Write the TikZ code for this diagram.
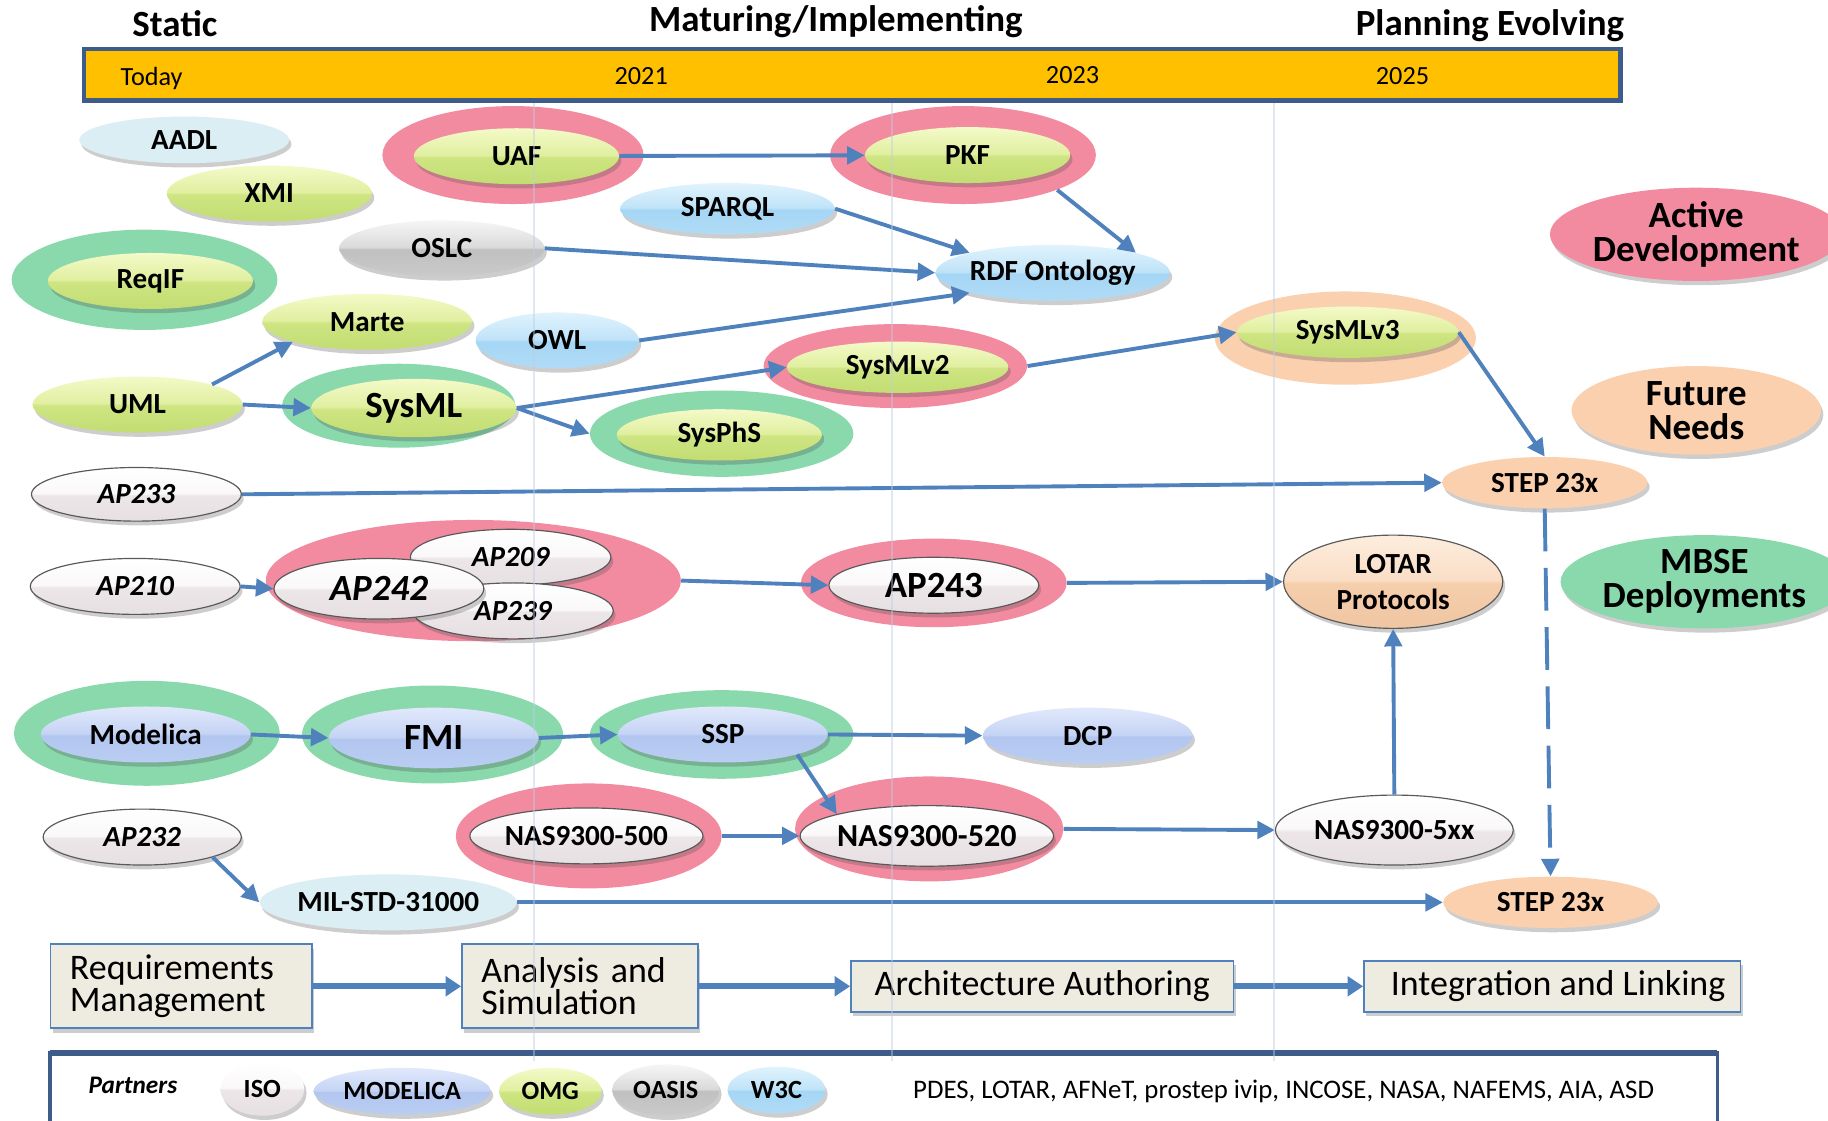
\documentclass[tikz,border=0pt]{standalone}
\usepackage{fontspec}
\setmainfont{Carlito}
\usetikzlibrary{shapes.geometric,arrows.meta,shadows}

\definecolor{pinkH}{RGB}{243,139,160}
\definecolor{greenH}{RGB}{137,217,172}
\definecolor{peachH}{RGB}{250,208,175}
\definecolor{arrB}{RGB}{79,129,189}
\definecolor{barB}{RGB}{62,92,138}
\definecolor{barY}{RGB}{255,192,0}
\definecolor{procF}{RGB}{238,236,225}
\definecolor{gridL}{RGB}{190,205,228}
\definecolor{flatB}{RGB}{218,238,243}

\definecolor{gGt}{RGB}{244,250,200}\definecolor{gGh}{RGB}{224,239,160}
\definecolor{gGm}{RGB}{206,229,130}\definecolor{gGb}{RGB}{194,221,114}
\definecolor{lBt}{RGB}{224,243,253}\definecolor{lBh}{RGB}{192,227,248}
\definecolor{lBm}{RGB}{165,214,245}\definecolor{lBb}{RGB}{176,219,246}
\definecolor{bBt}{RGB}{224,232,251}\definecolor{bBh}{RGB}{198,212,245}
\definecolor{bBm}{RGB}{178,198,240}\definecolor{bBb}{RGB}{186,205,242}
\definecolor{gyt}{RGB}{246,246,246}\definecolor{gyh}{RGB}{218,218,218}
\definecolor{gym}{RGB}{192,192,192}\definecolor{gyb}{RGB}{202,202,202}
\definecolor{wwt}{RGB}{255,255,255}\definecolor{wwh}{RGB}{250,248,248}
\definecolor{wwm}{RGB}{236,230,232}\definecolor{wwb}{RGB}{230,224,226}
\definecolor{ppt}{RGB}{253,237,222}\definecolor{pph}{RGB}{250,222,198}
\definecolor{ppm}{RGB}{245,206,172}\definecolor{ppb}{RGB}{240,198,162}

\pgfdeclareverticalshading{glossG}{100bp}{color(0bp)=(gGb); color(25bp)=(gGb); color(49bp)=(gGm); color(51bp)=(gGh); color(75bp)=(gGt); color(100bp)=(gGt)}
\pgfdeclareverticalshading{glossL}{100bp}{color(0bp)=(lBb); color(25bp)=(lBb); color(49bp)=(lBm); color(51bp)=(lBh); color(75bp)=(lBt); color(100bp)=(lBt)}
\pgfdeclareverticalshading{glossB}{100bp}{color(0bp)=(bBb); color(25bp)=(bBb); color(49bp)=(bBm); color(51bp)=(bBh); color(75bp)=(bBt); color(100bp)=(bBt)}
\pgfdeclareverticalshading{glossY}{100bp}{color(0bp)=(gyb); color(25bp)=(gyb); color(49bp)=(gym); color(51bp)=(gyh); color(75bp)=(gyt); color(100bp)=(gyt)}
\pgfdeclareverticalshading{glossW}{100bp}{color(0bp)=(wwb); color(25bp)=(wwb); color(49bp)=(wwm); color(51bp)=(wwh); color(75bp)=(wwt); color(100bp)=(wwt)}
\pgfdeclareverticalshading{glossP}{100bp}{color(0bp)=(ppb); color(25bp)=(ppb); color(49bp)=(ppm); color(51bp)=(pph); color(75bp)=(ppt); color(100bp)=(ppt)}

\newcommand\myfN{\fontsize{15}{16}\selectfont\bfseries}
\newcommand\myfNi{\fontsize{15}{16}\selectfont\bfseries\itshape}
\newcommand\myfL{\fontsize{19}{20}\selectfont\bfseries}
\newcommand\myfLi{\fontsize{19}{20}\selectfont\bfseries\itshape}
\newcommand\myfM{\fontsize{16.5}{18}\selectfont\bfseries}
\newcommand\myfT{\fontsize{19}{20}\selectfont\bfseries}
\newcommand\myfB{\fontsize{19}{17.5}\selectfont\bfseries}
\newcommand\myfY{\fontsize{13.5}{15}\selectfont}
\newcommand\myfP{\fontsize{18.5}{16.6}\selectfont}
\newcommand\myfS{\fontsize{13.8}{15}\selectfont}
\newcommand\myfQ{\fontsize{13.5}{15}\selectfont\bfseries}

\begin{document}
\begin{tikzpicture}[x=0.6pt,y=-0.6pt,
  sz/.style 2 args={minimum width=#1*1.2pt, minimum height=#2*1.2pt},
  ell/.style={ellipse, inner sep=0pt, font=\myfN},
  shd/.style={drop shadow={shadow xshift=1.2pt,shadow yshift=-2.2pt,opacity=0.28,fill=black!70}},
  hp/.style={ell, fill=pinkH},
  hg/.style={ell, fill=greenH},
  hpe/.style={ell, fill=peachH},
  nG/.style={ell, shd, shading=glossG},
  nL/.style={ell, shd, shading=glossL},
  nB/.style={ell, shd, shading=glossB},
  nY/.style={ell, shd, shading=glossY},
  nW/.style={ell, shd, shading=glossW, draw=black!65, line width=0.6pt},
  nP/.style={ell, shd, shading=glossP, draw=black!65, line width=0.6pt},
  nF/.style={ell, shd, fill=flatB},
  big/.style={ell, shd, font=\myfB, align=center},
  arr/.style={draw=arrB, line width=2pt, -{Triangle[length=9pt,width=9pt]}},
  parr/.style={draw=arrB, line width=3pt, -{Triangle[length=8pt,width=10pt]}},
  proc/.style={draw=arrB, fill=procF, line width=0.9pt, font=\myfP, align=left, inner xsep=10pt, inner ysep=0pt, shd},
  ttl/.style={font=\myfT, inner sep=0pt},
  yr/.style={font=\myfY, inner sep=0pt},
  pt/.style={ell, shd, font=\myfQ}
]
\useasboundingbox (0,0) rectangle (1568,961);

% titles
\node[ttl] (tStatic) at (150,20) {Static};
\node[ttl] (tMat) at (717,19) {Maturing/Implementing};
\node[ttl] (tPlan) at (1278,22) {Planning Evolving};

% timeline bar
\node[draw=barB, fill=barY, line width=2.4pt, minimum width=1318*0.6pt, minimum height=44*0.6pt, inner sep=0pt] (bar) at (731,64) {};
\node[yr] (today) at (130,67) {Today};
\node[yr] (y2021) at (550,65) {2021};
\node[yr] (y2023) at (920,64) {2023};
\node[yr] (y2025) at (1203,65) {2025};

% halos and legend ellipses
\node[hp, sz={112}{42}] (uafH) at (440,133) {};
\node[hp, sz={114}{42}] (pkfH) at (826,133) {};
\node[hg, sz={114}{43}] (reqifH) at (124,240) {};
\node[hp, sz={113}{36}] (sysmlvtwoH) at (768,314) {};
\node[hpe, sz={112}{40}] (sysmlvthreeH) at (1154,290) {};
\node[hg, sz={100}{36}] (sysmlH) at (342,348) {};
\node[hg, sz={113}{37}] (sysphsH) at (619,372) {};
\node[hp, sz={178}{52}] (apH) at (406,498) {};
\node[hp, sz={114}{38}] (apfourthreeH) at (801,500) {};
\node[hg, sz={114}{45}] (modelicaH) at (126,629) {};
\node[hg, sz={112}{42}] (fmiH) at (371,630) {};
\node[hg, sz={113}{38}] (sspH) at (619,630) {};
\node[hp, sz={114}{45}] (nasfiveH) at (505,717) {};
\node[hp, sz={115}{45}] (nastwoH) at (797,711) {};

\node[big, fill=pinkH, sz={113}{40}] (active) at (1455,201) {Active\\Development};
\node[big, fill=peachH, sz={107}{38}] (future) at (1455,352) {Future\\Needs};
\node[big, fill=greenH, sz={110}{40}] (mbse) at (1462,499) {MBSE\\Deployments};

% inner nodes
\node[nF, sz={90}{20}] (aadl) at (158,120) {AADL};
\node[nG, sz={88}{24}] (uaf) at (443,134) {UAF};
\node[nG, sz={88}{24}] (pkf) at (830,133) {PKF};
\node[nG, sz={88}{24}] (xmi) at (231,166) {XMI};
\node[nL, sz={92}{22}] (sparql) at (624,179) {SPARQL};
\node[nY, sz={88}{24}] (oslc) at (379,213) {OSLC};
\node[nG, sz={88}{24}] (reqif) at (129,241) {ReqIF};
\node[nL, sz={98}{24}] (rdf) at (903,234) {RDF Ontology};
\node[nG, sz={90}{24}] (marte) at (315,276) {Marte};
\node[nL, sz={70}{24}] (owl) at (478,292) {OWL};
\node[nG, sz={95}{22}] (sysmlvtwo) at (770,315) {SysMLv2};
\node[nG, sz={95}{22}] (sysmlvthree) at (1156,285) {SysMLv3};
\node[nG, sz={90}{24}] (uml) at (118,347) {UML};
\node[nG, sz={88}{25}, font=\myfL] (sysml) at (355,350) {SysML};
\node[nG, sz={88}{22}] (sysphs) at (617,373) {SysPhS};
\node[nW, sz={90}{23}, font=\myfNi] (apthreethree) at (117,424) {AP233};
\node[ell, shd, fill=peachH, sz={88}{22}] (stepA) at (1325,414) {STEP 23x};
\node[nW, sz={90}{24}, font=\myfNi] (aptwoten) at (116,503) {AP210};
\node[nW, sz={86}{24}, font=\myfNi] (apnine) at (438,478) {AP209};
\node[nW, sz={86}{24}, font=\myfNi] (apthreenine) at (440,524) {AP239};
\node[nW, sz={90}{26}, font=\myfLi] (apfourtwo) at (325,505) {AP242};
\node[nW, sz={90}{24}, font=\myfL] (apfourthree) at (801,502) {AP243};
\node[nP, sz={94}{40}, align=center, font=\fontsize{15}{18.6}\selectfont\bfseries] (lotar) at (1195,499) {LOTAR\\Protocols};
\node[nB, sz={90}{24}] (modelica) at (125,630) {Modelica};
\node[nB, sz={90}{26}, font=\myfL] (fmi) at (372,633) {FMI};
\node[nB, sz={90}{24}] (ssp) at (620,630) {SSP};
\node[nB, sz={90}{24}] (dcp) at (933,631) {DCP};
\node[nW, sz={100}{24}] (nasfive) at (503,717) {NAS9300-500};
\node[nW, sz={100}{26}, font=\myfM] (nastwo) at (795,717) {NAS9300-520};
\node[nW, sz={102}{30}] (nasxx) at (1196,712) {NAS9300-5xx};
\node[nW, sz={85}{24}, font=\myfNi] (aptwothree) at (122,718) {AP232};
\node[nF, sz={100}{24}] (mil) at (333,774) {MIL-STD-31000};
\node[ell, shd, fill=peachH, sz={92}{22}] (stepB) at (1330,774) {STEP 23x};

% connectors
\draw[arr] (uaf) -- (pkf);
\draw[arr] (sparql.east) -- (rdf.north west);
\draw[arr] (pkfH.south east) -- (rdf.north east);
\draw[arr] (oslc.east) -- (rdf.west);
\draw[arr] (owl.east) -- (rdf.south west);
\draw[arr] (uml.north east) -- (marte.south west);
\draw[arr] (uml.east) -- (sysml.west);
\draw[arr] (sysml.east) -- (sysmlvtwo.west);
\draw[arr] (sysml.east) -- (sysphsH.west);
\draw[arr] (sysmlvtwoH.east) -- (sysmlvthree.west);
\draw[arr] (sysmlvthree.east) -- (stepA.north);
\draw[arr] (apthreethree.east) -- (stepA.west);
\draw[arr] (aptwoten.east) -- (apfourtwo.west);
\draw[arr] (apH.east) -- (apfourthree.west);
\draw[arr] (apfourthreeH.east) -- (lotar.west);
\draw[arr] (nasxx.north) -- (lotar.south);
\draw[arr] (modelica.east) -- (fmi.west);
\draw[arr] (fmi.east) -- (ssp.west);
\draw[arr] (ssp.east) -- (dcp.west);
\draw[arr] (ssp.south east) -- (nastwo.north west);
\draw[arr] (nasfiveH.east) -- (nastwo.west);
\draw[arr] (nastwoH.east) -- (nasxx.west);
\draw[arr] (aptwothree.south east) -- (mil.west);
\draw[arr] (mil.east) -- (stepB.west);
\draw[arr, dash pattern=on 22pt off 8.5pt] (stepA.south) -- (stepB.north);

% process boxes
\node[proc, text width=191*0.6pt, minimum height=72*0.6pt] (req) at (155.5,846) {Requirements\\Management};
\node[proc, text width=169*0.6pt, minimum height=72*0.6pt] (ana) at (497.5,846) {Analysis and\\Simulation};
\node[proc, align=center, inner xsep=0pt, minimum width=328*0.6pt, minimum height=44*0.6pt] (arch) at (894,846) {Architecture Authoring};
\node[proc, align=center, inner xsep=0pt, minimum width=323*0.6pt, minimum height=44*0.6pt] (integ) at (1331.5,846) {\hspace{6pt}Integration and Linking};
\draw[parr] (req) -- (ana);
\draw[parr] (ana) -- (arch);
\draw[parr] (arch) -- (integ);

% partners box
\draw[barB, line width=1.8pt] (43,990) -- (43,903) -- (1473,903) -- (1473,990);
\draw[barB, line width=3pt] (43,903) -- (1473,903);
\node[font=\fontsize{13}{14}\selectfont\bfseries\itshape, inner sep=0pt] (partners) at (114,931) {Partners};
\node[pt, sz={36}{23}, shading=glossW] (pISO) at (225,934) {ISO};
\node[pt, sz={76}{20}, shading=glossB] (pMod) at (345,936) {MODELICA};
\node[pt, sz={44}{20}, shading=glossG] (pOMG) at (472,936) {OMG};
\node[pt, sz={46}{22}, shading=glossY] (pOASIS) at (571,935) {OASIS};
\node[pt, sz={42}{20}, shading=glossL] (pW3C) at (666,935) {W3C};
\node[font=\myfS, inner sep=0pt] (others) at (1101,936) {PDES, LOTAR, AFNeT, prostep ivip, INCOSE, NASA, NAFEMS, AIA, ASD};

% vertical guide lines
\foreach \gx in {458,765,1093}
  \draw[gridL, line width=0.9pt, opacity=0.45] (\gx,88) -- (\gx,910);
\end{tikzpicture}
\end{document}
